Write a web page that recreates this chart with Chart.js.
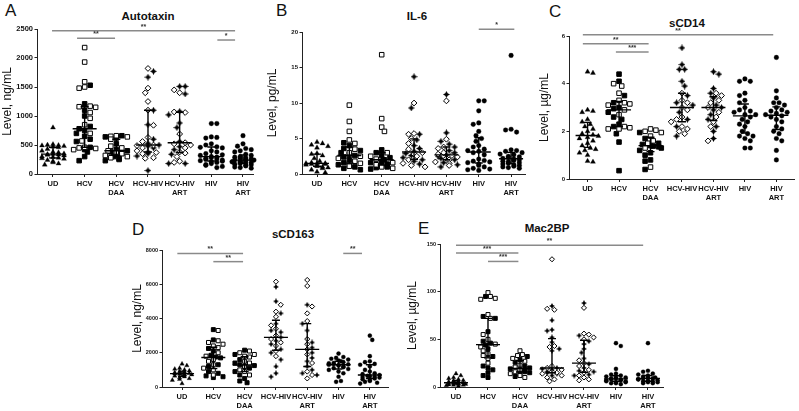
<!DOCTYPE html>
<html>
<head>
<meta charset="utf-8">
<script src="https://cdn.jsdelivr.net/npm/chart.js@4.4.1/dist/chart.umd.min.js"></script>
<style>
  html, body { margin: 0; padding: 0; background: #fff; overflow: hidden; }
  body { position: relative; width: 799px; height: 411px; }
  canvas { position: absolute; }
  .letter { position: absolute; font: 17px "Liberation Sans", Arial, sans-serif; line-height: 1; color: #111; }
  .title { position: absolute; font: bold 11.5px "Liberation Sans", Arial, sans-serif; line-height: 1; color: #111; transform: translateX(-50%); white-space: nowrap; }
</style>
</head>
<body>
<div class="letter" style="left:5px;top:2px">A</div>
<div class="letter" style="left:276px;top:2px">B</div>
<div class="letter" style="left:549px;top:3px">C</div>
<div class="letter" style="left:132px;top:221px">D</div>
<div class="letter" style="left:418px;top:220px">E</div>
<div class="title" style="left:148px;top:11px">Autotaxin</div>
<div class="title" style="left:417px;top:11px">IL-6</div>
<div class="title" style="left:687px;top:18px">sCD14</div>
<div class="title" style="left:293px;top:229px">sCD163</div>
<div class="title" style="left:547px;top:223px">Mac2BP</div>
<script>
const categories = [["UD"], ["HCV"], ["HCV", "DAA"], ["HCV-HIV"], ["HCV-HIV", "ART"], ["HIV"], ["HIV", "ART"]];

// open markers (open squares / open diamonds) and filled markers, one list per group
const autotaxinOpen = [[],
  [2180, 1930, 1590, 1500, 1480, 1170, 1160, 1150, 1060, 960, 850, 700, 570, 450, 440, 460, 420],
  [660, 650, 640, 600, 480, 450, 400, 380, 350, 320, 300, 280],
  [1820, 1480, 1400, 1250, 1100, 840, 630, 560, 500, 490, 450, 400, 370, 350, 280, 270],
  [1450, 1400, 1070, 1060, 690, 540, 520, 500, 450, 380, 360, 300, 220, 200],
  [], []];
const autotaxinFilled = [
  [800, 510, 500, 495, 490, 480, 470, 460, 430, 400, 380, 370, 350, 345, 340, 335, 330, 320, 300, 290, 280, 270, 260, 240, 220, 200, 180, 160],
  [1530, 1210, 1100, 1000, 820, 780, 750, 700, 650, 600, 560, 460, 420, 380, 300, 230],
  [660, 640, 620, 520, 420, 400, 380, 360, 330, 300, 270, 250, 230],
  [1770, 1670, 1100, 850, 600, 530, 500, 480, 450, 380, 350, 310, 60],
  [1510, 1510, 1380, 1080, 1020, 880, 800, 560, 470, 420, 340, 180, 180],
  [870, 870, 640, 630, 620, 520, 500, 470, 460, 450, 400, 380, 350, 330, 320, 300, 290, 280, 270, 260, 250, 240, 230, 220, 210, 200, 180, 160, 150, 130, 110],
  [660, 520, 480, 440, 420, 400, 380, 340, 320, 300, 290, 280, 270, 260, 250, 240, 240, 230, 220, 210, 200, 200, 190, 180, 170, 160, 150, 140, 120, 110, 100]];
const autotaxinTicks = [0, 500, 1000, 1500, 2000, 2500];
const autotaxinSig = [[-0.03, 5.75, 2470, "**"], [0.76, 1.96, 2340, "**"], [5.19, 5.75, 2310, "*"]];

const il6Open = [[],
  [9.7, 7.4, 6.0, 4.8, 4.3, 3.5, 3.0, 2.5, 2.2, 1.8, 1.5, 1.2, 1.1],
  [16.8, 7.8, 6.6, 6.0, 3.0, 2.5, 2.1, 1.6, 1.3, 1.0, 0.8],
  [10.0, 5.7, 5.6, 5.0, 4.3, 3.5, 3.0, 2.8, 2.5, 2.0, 1.5, 1.2, 1.0],
  [10.3, 4.9, 3.8, 3.6, 3.0, 2.8, 2.6, 2.4, 2.2, 2.0, 1.7, 1.5, 1.2],
  [], []];
const il6Filled = [
  [4.5, 4.3, 4.1, 3.9, 3.7, 2.9, 2.8, 2.6, 2.2, 1.8, 1.6, 1.5, 1.5, 1.5, 1.4, 1.4, 1.3, 1.2, 1.1, 1.0, 0.9, 0.8, 0.6, 0.3, 0.2],
  [4.4, 4.0, 3.6, 3.3, 3.0, 2.8, 2.6, 2.4, 2.0, 1.6, 1.3, 1.0, 0.8, 0.6],
  [3.4, 3.0, 2.6, 2.3, 2.0, 1.8, 1.6, 1.4, 1.2, 1.0, 0.9, 0.7],
  [13.7, 9.3, 5.6, 4.8, 4.0, 3.6, 3.2, 2.9, 2.6, 2.3, 2.0, 1.8, 1.4],
  [11.2, 5.8, 4.6, 4.2, 3.8, 3.3, 3.0, 2.7, 2.5, 2.2, 2.0, 1.6, 1.3, 1.0],
  [10.3, 10.3, 8.9, 7.2, 7.0, 6.0, 5.4, 5.0, 4.6, 4.0, 3.8, 3.5, 3.3, 3.2, 3.0, 2.7, 2.1, 1.9, 1.8, 1.7, 1.6, 1.4, 1.2, 1.0, 0.8, 0.7, 0.6, 0.5],
  [16.7, 6.3, 6.2, 5.9, 3.4, 3.3, 3.2, 3.0, 2.8, 2.7, 2.5, 2.4, 2.3, 2.2, 2.1, 2.0, 1.9, 1.8, 1.7, 1.6, 1.5, 1.4, 1.3, 1.2, 1.1, 1.0, 0.9, 0.8]];
const il6Ticks = [0, 5, 10, 15, 20];
const il6Sig = [[5.0, 6.1, 20.4, "*"]];

const scd14Open = [[],
  [4.0, 3.9, 3.6, 3.3, 3.2, 3.15, 3.1, 2.9, 2.7, 2.2, 2.15, 2.1, 2.1],
  [2.1, 2.05, 2.0, 1.95, 1.8, 1.6, 1.5, 1.3, 0.5],
  [3.6, 3.3, 3.2, 3.0, 2.9, 2.6, 2.5, 2.4, 2.2, 2.1, 2.0, 1.9],
  [3.6, 3.5, 3.3, 3.2, 3.0, 2.8, 2.6, 2.4, 2.2, 1.6],
  [], []];
const scd14Filled = [
  [4.5, 4.45, 2.9, 2.85, 2.8, 2.5, 2.4, 2.3, 2.2, 2.1, 2.0, 1.9, 1.85, 1.8, 1.75, 1.7, 1.6, 1.5, 1.4, 1.3, 1.25, 1.2, 1.1, 1.0, 0.75, 0.72],
  [4.4, 4.1, 3.5, 3.2, 3.0, 2.95, 2.8, 2.6, 2.5, 2.3, 2.2, 1.9, 1.55, 0.35],
  [1.95, 1.7, 1.5, 1.45, 1.4, 1.38, 1.35, 1.3, 1.2, 1.1, 1.0, 0.8, 0.75, 0.4],
  [5.5, 4.8, 4.6, 4.6, 4.1, 3.9, 3.5, 3.2, 3.1, 2.8, 2.5, 2.2, 1.8],
  [4.5, 4.4, 3.8, 3.6, 3.4, 3.1, 3.0, 2.9, 2.7, 2.5, 2.2, 2.0, 1.7],
  [4.2, 4.1, 4.1, 3.6, 3.5, 3.3, 3.2, 3.0, 2.9, 2.85, 2.8, 2.7, 2.7, 2.6, 2.5, 2.4, 2.3, 2.2, 2.0, 1.9, 1.8, 1.8, 1.7, 1.6, 1.3, 1.3],
  [5.1, 3.7, 3.4, 3.2, 3.2, 3.1, 3.0, 2.9, 2.85, 2.8, 2.75, 2.7, 2.65, 2.6, 2.5, 2.4, 2.2, 2.1, 2.0, 1.9, 1.7, 1.6, 1.2, 0.8]];
const scd14Ticks = [0, 2, 4, 6];
const scd14Sig = [[-0.15, 5.9, 6.05, "**"], [-0.15, 1.94, 5.68, "**"], [0.9, 1.94, 5.33, "***"]];

const scd163Open = [[],
  [3300, 2700, 2600, 2500, 2400, 2300, 2000, 1800, 1600, 1500, 1300, 1100, 1000, 700],
  [2100, 2000, 1900, 1800, 1750, 1500, 1400, 1200, 1000, 900, 700],
  [6150, 4800, 4400, 4100, 3600, 3400, 3000, 2800, 2600, 2400, 2100, 1800],
  [6250, 5900, 4700, 4300, 3850, 2800, 2500, 2200, 1900, 1400, 900, 700, 500],
  [], []];
const scd163Filled = [
  [1350, 1250, 1100, 1050, 1000, 950, 900, 880, 850, 820, 800, 780, 760, 740, 720, 700, 650, 600, 550, 500, 450, 400, 200],
  [3350, 2750, 2250, 2100, 1850, 1750, 1700, 1300, 1200, 900, 800, 650, 600, 550],
  [2150, 1900, 1600, 1400, 1300, 1250, 1200, 1100, 900, 700, 500, 350, 250],
  [5850, 5000, 4300, 3700, 3300, 3200, 2900, 2700, 2500, 2200, 2000, 1600, 1200, 800, 600],
  [4800, 3700, 3300, 2600, 2300, 2000, 1700, 1500, 1200, 1000, 800, 700],
  [1950, 1750, 1700, 1650, 1600, 1550, 1500, 1450, 1400, 1380, 1350, 1320, 1300, 1280, 1250, 1200, 1150, 1100, 1050, 1000, 900, 800, 600, 350, 300],
  [3000, 2750, 1800, 1500, 1450, 1350, 1300, 1200, 1000, 900, 800, 750, 700, 650, 620, 600, 580, 550, 500, 450, 400, 350, 300, 250, 200]];
const scd163Ticks = [0, 2000, 4000, 6000, 8000];
const scd163Sig = [[-0.15, 1.95, 7800, "**"], [1.0, 1.95, 7320, "**"], [5.15, 5.75, 7800, "**"]];

const mac2bpOpen = [[],
  [99, 95, 93, 92, 76, 72, 55, 50, 45, 42, 38, 35, 33, 30, 25],
  [38, 34, 33, 30, 27, 23, 21, 18, 16, 14, 12, 10],
  [134, 82, 81, 43, 42, 22, 20, 18, 16, 15, 14, 12, 10, 8, 6],
  [83, 56, 55, 52, 50, 25, 28, 22, 18, 15, 12, 10, 8, 7],
  [], []];
const mac2bpFilled = [
  [14, 12, 10, 9, 8, 7, 6.5, 6, 5.5, 5, 4.5, 4, 4, 3.5, 3, 3, 2.5, 2, 2, 1.5, 1],
  [95, 74, 72, 58, 48, 46, 44, 40, 32, 22, 20, 18, 15, 12, 10],
  [32, 29, 26, 22, 20, 19, 18, 17, 16, 15, 13, 11],
  [85, 70, 60, 59, 52, 47, 40, 38, 20, 19, 18, 16, 15, 14, 12],
  [88, 54, 48, 45, 40, 36, 30, 24, 20, 17, 16, 13, 12],
  [46, 43, 19, 14, 13, 12, 11, 10, 10, 9, 9, 8, 8, 7, 7, 6, 6, 5, 5, 4, 4, 3],
  [46, 17, 16, 14, 13, 12, 11, 10, 10, 9, 9, 8, 8, 7, 7, 6, 6, 5, 5, 4, 4]];
const mac2bpTicks = [0, 50, 100, 150];
const mac2bpSig = [[0, 5.85, 148.6, "**"], [0, 1.95, 140.5, "***"], [1.0, 1.95, 131.7, "***"]];

const FONT = '"Liberation Sans", Arial, sans-serif';

const panels = [
  { label: "Level, ng/mL", open: autotaxinOpen, filled: autotaxinFilled, ticks: autotaxinTicks, sig: autotaxinSig, tickFont: 7.5, mark: 1,
    box: { left: 0, top: 0, width: 262 }, area: { left: 37, right: 253, top: 29, bottom: 174 }, xRange: [-0.505, 6.316], titlePad: 0 },
  { label: "Level, pg/mL", open: il6Open, filled: il6Filled, ticks: il6Ticks, sig: il6Sig, tickFont: 6, mark: 1,
    box: { left: 262, top: 0, width: 268 }, area: { left: 302, right: 525, top: 32, bottom: 174 }, xRange: [-0.464, 6.43], titlePad: 3.8 },
  { label: "Level, µg/mL", open: scd14Open, filled: scd14Filled, ticks: scd14Ticks, sig: scd14Sig, tickFont: 6, mark: 1,
    box: { left: 530, top: 0, width: 269 }, area: { left: 569, right: 798, top: 36, bottom: 179 }, xRange: [-0.59, 6.56], titlePad: 7.8 },
  { label: "Level, ng/mL", open: scd163Open, filled: scd163Filled, ticks: scd163Ticks, sig: scd163Sig, tickFont: 5.5, mark: 0.88,
    box: { left: 128, top: 205, width: 270 }, area: { left: 162, right: 388, top: 250, bottom: 387 }, xRange: [-0.64, 6.58], titlePad: 2.8 },
  { label: "Level, µg/mL", open: mac2bpOpen, filled: mac2bpFilled, ticks: mac2bpTicks, sig: mac2bpSig, tickFont: 5.5, mark: 0.88,
    box: { left: 400, top: 205, width: 270 }, area: { left: 440, right: 663, top: 244, bottom: 387 }, xRange: [-0.5, 6.47], titlePad: 5.8 }
];

// small filled 4-point star used for the HCV-HIV groups
function makeStar(size) {
  const c = document.createElement("canvas");
  c.width = size; c.height = size;
  const g = c.getContext("2d");
  const m = size / 2, k = size * 0.17;
  g.fillStyle = "#000";
  g.beginPath();
  g.moveTo(m, 0); g.lineTo(m + k, m - k); g.lineTo(size, m); g.lineTo(m + k, m + k);
  g.lineTo(m, size); g.lineTo(m - k, m + k); g.lineTo(0, m); g.lineTo(m - k, m - k);
  g.closePath(); g.fill();
  return c;
}
const starBig = makeStar(7);
const starSmall = makeStar(6);

function quantile(sorted, q) {
  const pos = (sorted.length - 1) * q;
  const lo = Math.floor(pos), hi = Math.ceil(pos);
  return sorted[lo] + (sorted[hi] - sorted[lo]) * (pos - lo);
}

// simple beeswarm: spread points sideways so they don't sit on top of each other
function swarm(pts, pxPerY, gap) {
  const order = pts.slice().sort((a, b) => b.v - a.v);
  const done = [];
  const step = gap * 0.55;
  order.forEach((q, i) => {
    const py = q.v * pxPerY;
    const dir = i % 2 ? 1 : -1;
    let best = 0, bestHits = Infinity;
    for (let k = 0; k <= 8; k++) {
      const off = k === 0 ? 0 : (k % 2 ? dir : -dir) * Math.ceil(k / 2) * step;
      let hits = 0;
      done.forEach(d => {
        const dx = d.off - off, dy = d.py - py;
        if (dx * dx + dy * dy < gap * gap) hits++;
      });
      if (hits < bestHits) { best = off; bestHits = hits; }
      if (hits === 0) break;
    }
    done.push({ v: q.v, open: q.open, off: best, py });
  });
  return done;
}

function markerStyle(c, open, s) {
  if (c === 0) return { pointStyle: "triangle", pointRadius: 2.9 * s, backgroundColor: "#000", borderColor: "#000", borderWidth: 0.3 };
  if (c === 1 || c === 2) return { pointStyle: "rect", pointRadius: 3.2 * s, backgroundColor: open ? "#fff" : "#000", borderColor: "#000", borderWidth: 1 };
  if (c === 3 || c === 4) {
    if (open) return { pointStyle: "rectRot", pointRadius: 2.9 * s, backgroundColor: "#fff", borderColor: "#000", borderWidth: 1 };
    return { pointStyle: s < 1 ? starSmall : starBig, pointRadius: 3.5 * s };
  }
  return { pointStyle: "circle", pointRadius: 2.35 * s, backgroundColor: "#000", borderColor: "#000", borderWidth: 0.3 };
}

function buildPanel(p) {
  const canvas = document.createElement("canvas");
  const height = p.area.bottom - p.box.top + 30;
  canvas.width = p.box.width;
  canvas.height = height;
  canvas.style.left = p.box.left + "px";
  canvas.style.top = p.box.top + "px";
  document.body.appendChild(canvas);

  const yMax = p.ticks[p.ticks.length - 1];
  const pxPerY = (p.area.bottom - p.area.top) / yMax;
  const pxPerCat = (p.area.right - p.area.left) / (p.xRange[1] - p.xRange[0]);

  const datasets = [];
  categories.forEach((cat, c) => {
    const pts = p.open[c].map(v => ({ v, open: true })).concat(p.filled[c].map(v => ({ v, open: false })));
    const placed = swarm(pts, pxPerY, 5 * p.mark);
    [true, false].forEach(open => {
      const data = placed.filter(q => q.open === open).map(q => ({ x: c + q.off / pxPerCat, y: q.v }));
      if (data.length) datasets.push(Object.assign({ data, clip: false }, markerStyle(c, open, p.mark)));
    });
  });

  // median with interquartile range, plus significance bars
  const summary = {
    id: "summary",
    afterDatasetsDraw(chart) {
      const { ctx, scales: { x, y } } = chart;
      ctx.save();
      ctx.strokeStyle = "#000";
      ctx.lineWidth = 1.4;
      categories.forEach((_, c) => {
        const vals = p.open[c].concat(p.filled[c]).sort((a, b) => a - b);
        const cx = x.getPixelForValue(c);
        const y1 = y.getPixelForValue(quantile(vals, 0.25));
        const y3 = y.getPixelForValue(quantile(vals, 0.75));
        const ym = y.getPixelForValue(quantile(vals, 0.5));
        ctx.beginPath();
        ctx.moveTo(cx, y1); ctx.lineTo(cx, y3);
        ctx.moveTo(cx - 4, y1); ctx.lineTo(cx + 4, y1);
        ctx.moveTo(cx - 4, y3); ctx.lineTo(cx + 4, y3);
        ctx.moveTo(cx - 12, ym); ctx.lineTo(cx + 12, ym);
        ctx.stroke();
      });
      ctx.strokeStyle = "#8a8a8a";
      ctx.lineWidth = 1.5;
      ctx.fillStyle = "#333";
      ctx.font = "bold 7px " + FONT;
      ctx.textAlign = "center";
      ctx.textBaseline = "bottom";
      p.sig.forEach(([a, b, level, stars]) => {
        const xa = x.getPixelForValue(a), xb = x.getPixelForValue(b), yy = y.getPixelForValue(level);
        ctx.beginPath();
        ctx.moveTo(xa, yy); ctx.lineTo(xb, yy);
        ctx.stroke();
        ctx.fillText(stars, (xa + xb) / 2, yy - 0.5);
      });
      ctx.restore();
    }
  };

  new Chart(canvas.getContext("2d"), {
    type: "scatter",
    data: { datasets },
    plugins: [summary],
    options: {
      responsive: false,
      animation: false,
      events: [],
      layout: { padding: { top: p.area.top - p.box.top, right: p.box.left + p.box.width - p.area.right, left: 0, bottom: 0 } },
      plugins: { legend: { display: false }, tooltip: { enabled: false } },
      scales: {
        x: {
          type: "linear",
          min: p.xRange[0],
          max: p.xRange[1],
          afterBuildTicks: s => { s.ticks = categories.map((_, i) => ({ value: i })); },
          afterFit: s => { s.height = 30; },
          ticks: {
            autoSkip: false, maxRotation: 0, padding: 2, color: "#111",
            font: { family: FONT, size: 7.5, weight: "bold", lineHeight: 1.25 },
            callback: v => categories[v]
          },
          grid: { display: true, drawOnChartArea: false, tickLength: 3, color: "#222" },
          border: { display: true, color: "#222", width: 1 }
        },
        y: {
          min: 0,
          max: yMax,
          afterBuildTicks: s => { s.ticks = p.ticks.map(v => ({ value: v })); },
          afterFit: s => { s.width = p.area.left - p.box.left; },
          ticks: { padding: 1.5, color: "#111", font: { family: FONT, size: p.tickFont, weight: "bold" }, callback: v => String(v) },
          grid: { drawOnChartArea: false, tickLength: 2.5, color: "#222" },
          border: { display: true, color: "#222", width: 1 },
          title: { display: true, text: p.label, color: "#111", font: { family: FONT, size: 12 }, padding: { top: p.titlePad, bottom: 0 } }
        }
      }
    }
  });
}

panels.forEach(buildPanel);
</script>
</body>
</html>
